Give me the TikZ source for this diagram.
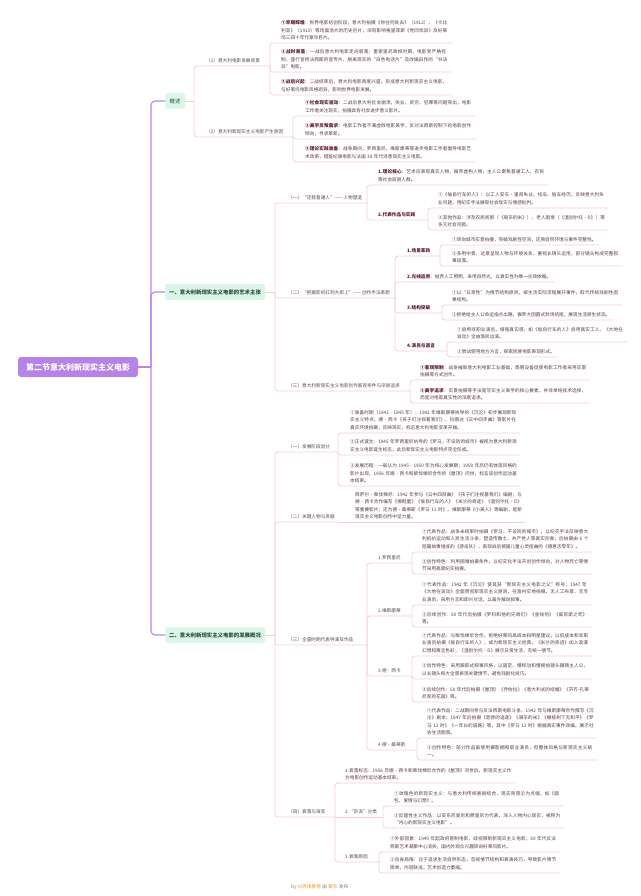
\documentclass[tikz,border=0pt]{standalone}
\usepackage{fontspec}
\setmainfont{Noto Sans CJK SC}
\XeTeXlinebreaklocale "zh"
\XeTeXlinebreakskip=0pt plus 1pt
\definecolor{pkc}{HTML}{F7CDD7}
\definecolor{trc}{HTML}{BB86E6}
\definecolor{txc}{HTML}{5A3845}
\definecolor{bdc}{HTML}{5E1A36}
\definecolor{lbc}{HTML}{4F4F4F}
\definecolor{l1c}{HTML}{D9F6E9}
\definecolor{l1t}{HTML}{2E4A3D}
\definecolor{rtc}{HTML}{B584E6}
\definecolor{ftc}{HTML}{E8A33A}
\newcommand\tf{\fontsize{4.65}{7.4}\selectfont}
\newcommand\hd[1]{\textbf{\textcolor{bdc}{#1}}}
\tikzset{
  pk/.style={draw=pkc, line width=0.8pt, rounded corners=3pt},
  tr/.style={draw=trc, line width=1.1pt, rounded corners=4pt},
  tx/.style={anchor=south west, inner sep=0pt, text width=167pt, align=left, font=\tf, text=txc},
  tx1/.style={anchor=south west, inner sep=0pt, font=\tf, text=txc},
  lb/.style={anchor=south west, inner sep=0pt, font=\tf, text=lbc},
  lone/.style={fill=l1c, rounded corners=2.5pt, font=\fontsize{5.4}{6}\selectfont\bfseries, text=l1t, minimum height=16pt, inner xsep=4pt},
  rootbox/.style={fill=rtc, rounded corners=3pt, text=white, font=\fontsize{8}{9}\selectfont\bfseries, minimum width=120pt, minimum height=20pt},
}
\begin{document}
\begin{tikzpicture}[x=1pt,y=-1pt]
\fill[white] (0,0) rectangle (640,896);
\useasboundingbox (0,0) rectangle (640,896);

% root and level 1
\node[rootbox] (root) at (78,367) {第二节意大利新现实主义电影};
\node[lone, minimum width=20pt, font=\fontsize{5.4}{6}\selectfont] (gs) at (175,101) {概述};
\node[lone, minimum width=100pt] (a1) at (215,292) {一、意大利新现实主义电影的艺术主张};
\node[lone, minimum width=100pt] (a2) at (215,635) {二、意大利新现实主义电影的发展概况};
\coordinate (rt) at (151,367);
\draw[tr] (root.east) -- (rt);
\foreach \b in {gs,a1,a2} \draw[tr] (rt) |- (\b.west);

% bracket coordinates
\coordinate (gsb) at (194,101);
\coordinate (a1b) at (275,292);
\coordinate (a2b) at (275,635);
\coordinate (gs1e) at (270,66);
\coordinate (gs2e) at (293,137);
\coordinate (b1e) at (367,203);
\coordinate (b2e) at (395,298);
\coordinate (b3e) at (410,391);
\coordinate (c12e) at (428,220);
\coordinate (c21e) at (440,256);
\coordinate (c23e) at (442,313);
\coordinate (c24e) at (447,351);
\coordinate (d1e) at (338,452);
\coordinate (d2e) at (338,522);
\coordinate (d3e) at (367,645);
\coordinate (d4e) at (335,817);
\coordinate (e1e) at (412,563);
\coordinate (e2e) at (412,616);
\coordinate (e3e) at (412,676);
\coordinate (e4e) at (417,750);
\coordinate (f2e) at (383,817);
\coordinate (f3e) at (379,862);

% ===== 概述 =====
\node[lb] (gs1) at (206,63) {（1）意大利电影发展背景};
\node[lb] (gs2) at (206,134) {（2）意大利新现实主义电影产生原因};
\node[tx] (g11) at (281,40) {\hd{①早期辉煌}：世界电影初创阶段，意大利拍摄《你往何处去》（1912）、《卡比利亚》（1913）等场面浩大的历史巨片，深刻影响格里菲斯《党同伐异》及好莱坞三四十年代豪华巨片。};
\node[tx] (g12) at (281,69) {\hd{②战时衰落}：一战后意大利电影走向衰落；墨索里尼政权时期，电影受严格控制，盛行宣扬法西斯的宣传片、脱离现实的“白色电话片”及改编旧作的“书法派”电影。};
\node[tx] (g13) at (281,92) {\hd{③战后兴起}：二战结束后，意大利电影再度兴盛，形成意大利新现实主义电影，与好莱坞电影风格迥异，影响世界电影发展。};
\node[tx] (g21) at (305,113) {\hd{①社会现实驱动}：二战后意大利社会崩溃，失业、贫穷、犯罪等问题突出，电影工作者关注现实，拍摄具有社会进步意义影片。};
\node[tx] (g22) at (305,136) {\hd{②美学反叛需求}：电影工作者不满虚假电影美学，反对法西斯控制下的电影创作倾向，寻求革新。};
\node[tx] (g23) at (305,159) {\hd{③理论实践准备}：战争期间，罗西里尼、维斯康蒂等进步电影工作者倡导电影艺术改革，借鉴纪录电影与法国 30 年代诗意现实主义电影。};

% ===== 一 =====
\node[lb] (b1) at (288,200) {（一）“还我普通人”—— 人物塑造};
\node[lb] (b2) at (288,295) {（二）“把摄影机扛到大街上”—— 创作手法革新};
\node[lb] (b3) at (288,388) {（三）意大利新现实主义电影创作客观条件与深层追求};
\node[tx] (c11) at (378,182) {\hd{1.理论核心}：艺术应表现真实人物，摒弃虚构人物，主人公聚焦普通工人、农民等社会底层人群。};
\node[lb, text=txc] (c12) at (378,217) {\hd{2.代表作品与实践}};
\node[tx] (c121) at (438,205) {①《偷自行车的人》：以工人安东·里奇失业、找车、偷车经历，反映意大利失业问题，用纪实手法展现社会现实与情感批判。};
\node[tx] (c122) at (438,227) {②其他作品：涉及农民贫困（《艰辛的米》）、老人困境（《温别尔托·D》）等多元社会问题。};
\node[lb] (c21) at (407,253) {\hd{1.场景革新}};
\node[tx1] (c211) at (452,242) {①转向城市实景拍摄，突破戏剧性空间，还原自然环境与事件完整性。};
\node[tx] (c212) at (452,263) {②多用中景、远景呈现人物与环境关系，重视长镜头运用，部分镜头构成完整叙事段落。};
\node[tx1] (c22) at (407,279) {\hd{2.光线运用}：抛弃人工照明，采用自然光，以真实性为唯一光效依据。};
\node[lb] (c23) at (407,310) {\hd{3.结构突破}};
\node[tx] (c231) at (452,302) {①以“日常性”为情节结构原则，按生活实际流程展开事件，取代传统戏剧性因果结构。};
\node[tx1] (c232) at (452,317) {②拒绝给主人公命运指点出路，摒弃大团圆式封闭结尾，展现生活原生状态。};
\node[lb] (c24) at (407,348) {\hd{4.演员与语言}};
\node[tx] (c241) at (457,339) {①启用非职业演员，增强真实感，如《偷自行车的人》启用真实工人、《大地在波动》全由渔民出演。};
\node[tx1] (c242) at (457,354) {②尝试使用地方方言，探索民族电影表现形式。};
\node[tx] (c31) at (420,377) {\hd{①客观限制}：战争摧毁意大利电影工业基础，简陋设备促使电影工作者采用实景拍摄等方式创作。};
\node[tx] (c32) at (420,400) {\hd{②美学追求}：实景拍摄等手法是写实主义美学的核心要素，并非单纯技术选择，而是对电影真实性的深度追求。};

% ===== 二 =====
\node[lb] (d1) at (288,449) {（一）发展阶段划分};
\node[tx] (d11) at (350,430) {①准备时期（1942 - 1945 年）：1942 年维斯康蒂执导的《沉沦》初步展现新现实主义特点；德·西卡《孩子们注视着我们》、拉图达《云中四步曲》等影片在真实环境拍摄，反映现实，标志意大利电影变革开端。};
\node[tx] (d12) at (350,452) {②正式诞生：1945 年罗西里尼执导的《罗马，不设防的城市》被视为意大利新现实主义电影诞生标志，此后新现实主义电影特点完全形成。};
\node[tx] (d13) at (350,483) {③发展历程：一般认为 1945 - 1950 年为核心发展期；1950 年后仍有体现风格的影片出现，1956 年德·西卡和柴伐梯尼合作的《屋顶》问世，标志该创作运动基本结束。};
\node[lb] (d2) at (288,519) {（二）关键人物与贡献};
\node[tx] (d21) at (355,519) {西萨尔·柴伐梯尼：1942 年参与《云中四部曲》《孩子们注视着我们》编剧；与德·西卡合作编写《擦鞋童》《偷自行车的人》《米兰的奇迹》《温别尔托·D》等重要影片；还为德·桑蒂斯《罗马 11 时》、维斯康蒂《小美人》等编剧，是新现实主义电影创作中坚力量。};
\node[lb] (d3) at (288,642) {（三）全盛时期代表导演及作品};
\node[lb] (e1) at (378,560) {1.罗西里尼};
\node[tx] (e11) at (422,549) {①代表作品：战争未结束时拍摄《罗马，不设防的城市》，以纪实手法反映意大利抵抗运动和人民生活斗争，塑造传教士、共产党人等真实形象；后拍摄由 6 个短篇故事组成的《游击队》、表现战后德国儿童心灵扭曲的《德意志零年》。};
\node[tx] (e12) at (422,571) {②创作特色：利用困难拍摄条件，以纪实化手法开创创作倾向，对人物死亡等情节采用高度纪实拍摄。};
\node[lb] (e2) at (378,613) {2.维斯康蒂};
\node[tx] (e21) at (422,602) {①代表作品：1942 年《沉沦》使其获“新现实主义电影之父”称号；1947 年《大地在波动》全面贯彻新现实主义原则，在渔村实地拍摄，无人工布景、无专业演员，采用方言和即兴对话，以画外解说叙事。};
\node[tx] (e22) at (422,624) {②后续创作：50 年代后拍摄《罗科和他的兄弟们》《金钱豹》《威尼斯之死》等。};
\node[lb] (e3) at (378,673) {3.德·西卡};
\node[tx] (e31) at (422,653) {①代表作品：与柴伐梯尼合作，拒绝好莱坞高成本和明星建议，以低成本和非职业演员拍摄《偷自行车的人》，成为新现实主义经典；《米兰的奇迹》加入浪漫幻想和寓言色彩；《温别尔托·D》展示日常生活，无统一情节。};
\node[tx] (e32) at (422,676) {②创作特色：采用跟踪式叙事风格，以固定、慢移动和慢摇拍镜头跟随主人公，以长镜头和大全景表现关键情节，避免戏剧化技巧。};
\node[tx] (e33) at (422,699) {③后续创作：50 年代后拍摄《屋顶》《乔佐拉》《意大利式的结婚》《芬齐-孔蒂尼家的花园》等。};
\node[lb] (e4) at (378,747) {4.德·桑蒂斯};
\node[tx] (e41) at (427,735) {①代表作品：二战期间参与反法西斯电影斗争，1942 年与维斯康蒂合作撰写《沉沦》剧本；1947 年后拍摄《悲惨的追逐》《艰辛的米》《橄榄树下无和平》《罗马 11 时》《一年长的道路》等，其中《罗马 11 时》根据真实事件改编，展示社会生活图景。};
\node[tx] (e42) at (427,757) {②创作特色：部分作品虽使用摄影棚和职业演员，但整体风格与新现实主义统一。};
\node[lb] (d4) at (288,814) {（四）衰落与演变};
\node[tx] (f1) at (345,780) {1.衰落标志：1956 年德·西卡和柴伐梯尼合作的《屋顶》问世后，新现实主义作为电影创作运动基本结束。};
\node[lb] (f2) at (345,814) {2.“杂派”分类};
\node[tx] (f21) at (394,803) {①玫瑰色的新现实主义：与意大利传统喜剧结合，现实背景沦为点缀，如《面包、爱情与幻想》。};
\node[tx] (f22) at (394,825) {②反理性主义作品：以安东尼奥尼和费里尼为代表，深入人物内心现实，被称为“内心的新现实主义电影”。};
\node[lb] (f3) at (345,859) {3.衰落原因};
\node[tx] (f31) at (390,849) {①外部因素：1949 年起政府管制电影，歧视限制新现实主义电影；50 年代反法西斯艺术凝聚中心消失；国内外观众兴趣转向好莱坞影片。};
\node[tx] (f32) at (390,870) {②自身局限：过于追求生活自然形态，忽视情节结构和表演技巧，导致影片情节简单、内容肤浅，艺术创造力萎缩。};

% footer
\node[anchor=west, inner sep=0pt, font=\fontsize{4.8}{6}\selectfont, text=gray] (ft) at (291,887) {by \textcolor{ftc}{AI思维教育} 由 \textcolor{ftc}{幕布} 发布};

% ===== connectors =====
\draw[pk] (gs.east) -- (gsb);
\draw[pk] (a1.east) -- (a1b);
\draw[pk] (a2.east) -- (a2b);
\draw[pk] (d2e) -- ([xshift=3pt,yshift=-3pt]d21.south east);
\draw[pk] (d4e) -- (f2e);
\foreach \a/\b in {gsb/gs1e, gsb/gs2e, a1b/b1e, a1b/b2e, a1b/b3e,
  a2b/d1e, a2b/d2e, a2b/d3e, a2b/d4e, b1e/c12e, b2e/c21e, b2e/c23e, b2e/c24e,
  d3e/e1e, d3e/e2e, d3e/e3e, d3e/e4e, d4e/f3e}
  \draw[pk] (\a) |- (\b);
\foreach \a/\b in {gs1e/g11, gs1e/g12, gs1e/g13, gs2e/g21, gs2e/g22, gs2e/g23,
  b1e/c11, c12e/c121, c12e/c122, c21e/c211, c21e/c212, b2e/c22,
  c23e/c231, c23e/c232, c24e/c241, c24e/c242, b3e/c31, b3e/c32,
  d1e/d11, d1e/d12, d1e/d13, e1e/e11, e1e/e12, e2e/e21, e2e/e22,
  e3e/e31, e3e/e32, e3e/e33, e4e/e41, e4e/e42, d4e/f1,
  f2e/f21, f2e/f22, f3e/f31, f3e/f32}
  \draw[pk] (\a) |- ([xshift=3pt,yshift=-3pt]\b.south east);
\end{tikzpicture}
\end{document}
